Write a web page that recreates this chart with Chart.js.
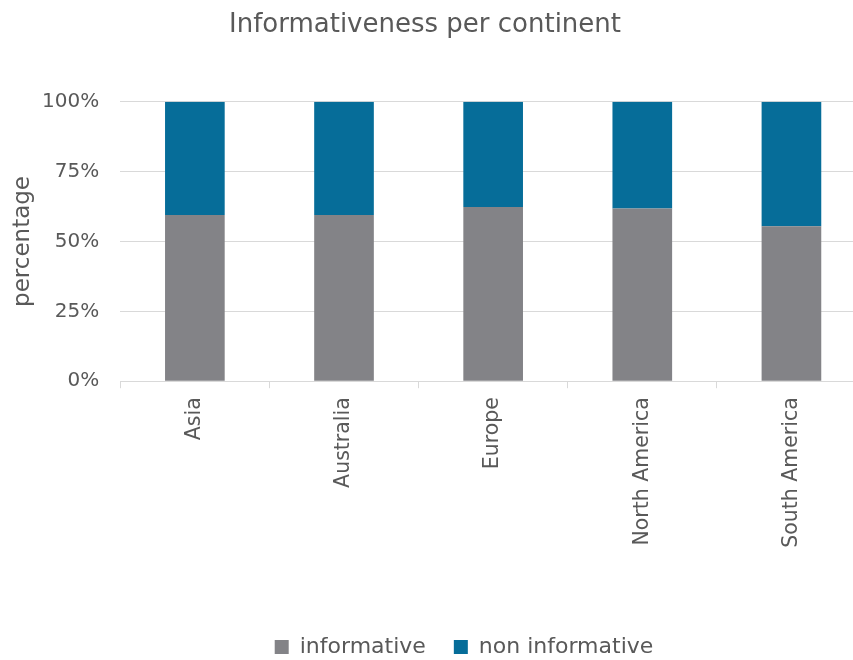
<!DOCTYPE html>
<html lang="en">
<head>
    <meta charset="UTF-8">
    <title>Informativeness per continent</title>
    <script src="https://cdn.jsdelivr.net/npm/chart.js"></script>
    <style>
        * {
            margin: 0;
            padding: 0;
            box-sizing: border-box;
        }
        body {
            background: #ffffff;
            overflow: hidden;
        }
        .chart-box {
            width: 866px;
            height: 660px;
        }
    </style>
</head>
<body>
    <div class="chart-box">
        <canvas id="continentChart"></canvas>
    </div>

    <script>
        const continents = ["Asia", "Australia", "Europe", "North America", "South America"];
        const informative = [59.5, 59.5, 62.3, 61.8, 55.4];
        const nonInformative = [40.5, 40.5, 37.7, 38.2, 44.6];
        const yTicks = [0, 25, 50, 75, 100];

        const textColor = "#595959";
        const gridColor = "#d9d9d9";

        Chart.defaults.font.family = "'DejaVu Sans', sans-serif";
        Chart.defaults.color = textColor;

        // moves title and legend sideways / down once the layout is done
        const nudge = {
            id: "nudge",
            afterLayout(chart, args, opts) {
                const shift = (box, dx, dy) => {
                    if (!box) return;
                    box.left += dx; box.right += dx;
                    box.top += dy; box.bottom += dy;
                };
                shift(chart.titleBlock, opts.titleX, 0);
                shift(chart.legend, opts.legendX, opts.legendY);
            }
        };

        new Chart(document.getElementById("continentChart"), {
            type: "bar",
            data: {
                labels: continents,
                datasets: [{
                    label: "informative",
                    data: informative,
                    backgroundColor: "#838387",
                    borderWidth: 0
                }, {
                    label: "non informative",
                    data: nonInformative,
                    backgroundColor: "#066d99",
                    borderWidth: 0
                }]
            },
            options: {
                responsive: true,
                maintainAspectRatio: false,
                animation: false,
                devicePixelRatio: 1,
                layout: { padding: 0 },
                datasets: {
                    bar: { categoryPercentage: 1, barPercentage: 0.4 }
                },
                scales: {
                    x: {
                        stacked: true,
                        grid: {
                            offset: true,
                            drawOnChartArea: false,
                            tickLength: 7,
                            color: gridColor
                        },
                        border: { display: true, color: gridColor },
                        ticks: {
                            minRotation: 90,
                            maxRotation: 90,
                            padding: 9,
                            color: textColor,
                            font: { size: 20.5 }
                        },
                        afterFit(scale) { scale.height = 218.8; }
                    },
                    y: {
                        stacked: true,
                        min: 0,
                        max: 100,
                        afterBuildTicks(scale) {
                            scale.ticks = yTicks.map(v => ({ value: v }));
                        },
                        grid: { color: gridColor, drawTicks: false },
                        border: { display: false },
                        ticks: {
                            padding: 21,
                            color: textColor,
                            font: { size: 20 },
                            callback: v => v + "%"
                        },
                        title: {
                            display: true,
                            text: "percentage",
                            color: textColor,
                            font: { size: 23 },
                            padding: { top: 9, bottom: 0 }
                        },
                        afterFit(scale) { scale.width = 120.3; }
                    }
                },
                plugins: {
                    title: {
                        display: true,
                        text: "Informativeness per continent",
                        color: textColor,
                        font: { size: 26, weight: "normal" },
                        padding: { top: 10, bottom: 60.5 }
                    },
                    legend: {
                        position: "bottom",
                        labels: {
                            boxWidth: 14,
                            boxHeight: 14,
                            padding: 28,
                            color: textColor,
                            font: { size: 22 }
                        }
                    },
                    tooltip: { enabled: false },
                    nudge: { titleX: -8, legendX: 31, legendY: 8 }
                }
            },
            plugins: [nudge]
        });
    </script>
</body>
</html>
